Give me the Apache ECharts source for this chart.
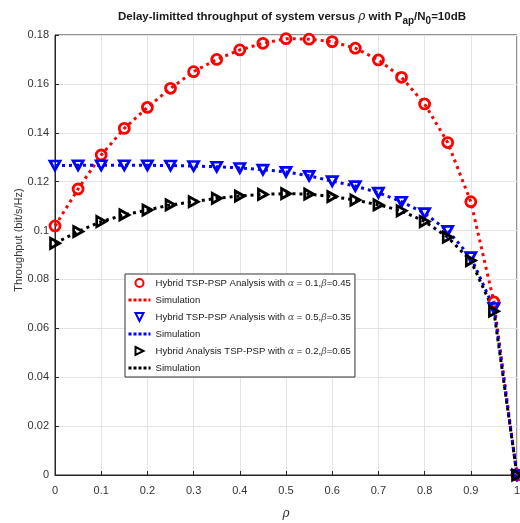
<!DOCTYPE html>
<html><head><meta charset="utf-8">
<script src="https://cdn.jsdelivr.net/npm/echarts@6/dist/echarts.min.js"></script>
<style>html,body{margin:0;padding:0;background:#fff}#c{width:520px;height:523px}</style>
</head><body><div id="c"></div>
<script>
var rho = [0,0.05,0.1,0.15,0.2,0.25,0.3,0.35,0.4,0.45,0.5,0.55,0.6,0.65,0.7,0.75,0.8,0.85,0.9,0.95,1];
var redVals = [0.1019,0.117,0.1309,0.1418,0.1504,0.1582,0.165,0.170,0.1739,0.1766,0.1785,0.1783,0.1773,0.1746,0.1698,0.1627,0.1518,0.136,0.1118,0.0708,0];
var blueVals = [0.1266,0.1267,0.1267,0.1267,0.1267,0.1266,0.1264,0.1261,0.1256,0.1249,0.1240,0.1224,0.1202,0.1182,0.1155,0.1118,0.1071,0.0999,0.0891,0.0683,0];
var blackVals = [0.0948,0.0996,0.1037,0.1064,0.1084,0.1105,0.1118,0.1132,0.1141,0.1148,0.1151,0.1149,0.1139,0.1125,0.1105,0.1081,0.1037,0.0973,0.0877,0.067,0];
var legendNames = [
  'Hybrid TSP-PSP Analysis with {g|α} = 0.1,{g|β}=0.45',
  'Simulation',
  'Hybrid TSP-PSP Analysis with {g|α} = 0.5,{g|β}=0.35',
  'Simulation ',
  'Hybrid Analysis TSP-PSP with {g|α} = 0.2,{g|β}=0.65',
  'Simulation  '
];
var xTicks = [0,0.1,0.2,0.3,0.4,0.5,0.6,0.7,0.8,0.9,1];
var yTicks = [0,0.02,0.04,0.06,0.08,0.1,0.12,0.14,0.16,0.18];

function pairs(v){ return rho.map(function(r,i){return [r,v[i]];}); }
var font = 'Liberation Sans, Arial, sans-serif';
var colors = ['#ff0000','#0000ff','#000000'];
var symbols = ['circle','path://M0,0 L10,0 L5,10 Z','path://M0,0 L10,5 L0,10 Z'];
var valsList = [redVals, blueVals, blackVals];
var series = [];
for (var k=0;k<3;k++){
  series.push({
    name: legendNames[2*k+1], type:'line', data: pairs(valsList[k]), symbol:'none',
    lineStyle:{color:colors[k], width:3, type:[3,4]}, itemStyle:{color:colors[k]}, z:2+k, animation:false
  });
  series.push({
    name: legendNames[2*k], type:'line', data: pairs(valsList[k]),
    symbol: symbols[k], symbolSize: k===0 ? 10 : (k===1 ? [10,9] : [9,10]),
    lineStyle:{opacity:0, width:0},
    itemStyle:{color:'rgba(0,0,0,0)', borderColor:colors[k], borderWidth:2.8},
    z:5+k, animation:false
  });
}
var legendData = legendNames.map(function(n,i){
  if (i%2===1) return {name:n, itemStyle:{opacity:0}, lineStyle:{width:3, type:[3,2]}};
  return {name:n};
});
var chart = echarts.init(document.getElementById('c'), null, {renderer:'canvas'});
chart.setOption({
  animation:false,
  title:{
    text:'Delay-limitted throughput of system versus {g|ρ} with P{sub|ap}/N{sub|0}=10dB',
    left:287, textAlign:'center', top:3,
    textStyle:{fontFamily:font, fontSize:11.5, fontWeight:'bold', color:'#1a1a1a',
      rich:{g:{fontFamily:'DejaVu Serif, serif', fontStyle:'italic', fontSize:12, fontWeight:'normal', color:'#1a1a1a'},
            sub:{fontFamily:font, fontSize:10, fontWeight:'bold', color:'#1a1a1a', verticalAlign:'bottom', padding:[8,0,0,0]}}}
  },
  grid:{left:55, right:3, top:35, bottom:48, outerBoundsMode:'none', containLabel:false,
    show:true, borderColor:'#262626', borderWidth:1, backgroundColor:'#fff'},
  legend:{
    orient:'vertical', left:125, top:274, itemWidth:22, itemHeight:10, itemGap:7,
    padding:[4,4,4,2], backgroundColor:'#fff', borderColor:'#333', borderWidth:1,
    data: legendData,
    textStyle:{fontFamily:font, fontSize:9.6, color:'#1a1a1a',
      rich:{g:{fontFamily:'DejaVu Serif, serif', fontStyle:'italic', fontSize:9.6, color:'#555'}}}
  },
  xAxis:{type:'value', min:0, max:1, interval:0.1,
    name:'ρ', nameLocation:'middle', nameGap:33,
    nameTextStyle:{fontFamily:'DejaVu Serif, serif', fontStyle:'italic', fontSize:12, color:'#333'},
    axisLine:{lineStyle:{color:'#262626'}}, axisTick:{inside:true, length:4, lineStyle:{color:'#262626'}},
    axisLabel:{fontFamily:font, fontSize:11, color:'#333', margin:10,
      formatter:function(v){return String(Math.round(v*10)/10);}},
    splitLine:{show:true, lineStyle:{color:'#e3e3e3'}}
  },
  yAxis:{type:'value', min:0, max:0.18, interval:0.02,
    name:'Throughput (bit/s/Hz)', nameLocation:'middle', nameGap:31, nameMoveOverlap:false,
    nameTextStyle:{fontFamily:font, fontSize:11, color:'#333', padding:[0,0,0,30]},
    axisLine:{show:true, lineStyle:{color:'#262626'}}, axisTick:{show:true, inside:true, length:4, lineStyle:{color:'#262626'}},
    axisLabel:{fontFamily:font, fontSize:11, color:'#333', margin:6,
      formatter:function(v){return String(Math.round(v*100)/100);}},
    splitLine:{show:true, lineStyle:{color:'#e3e3e3'}}
  },
  series: series
});
</script></body></html>
